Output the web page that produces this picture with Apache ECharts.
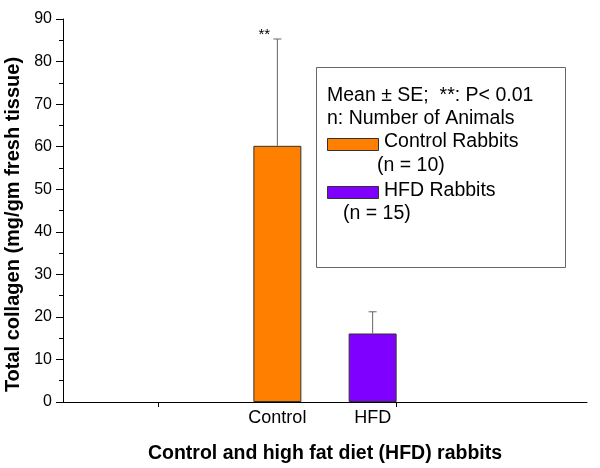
<!DOCTYPE html>
<html>
<head>
<meta charset="utf-8">
<script src="https://cdn.jsdelivr.net/npm/echarts@6/dist/echarts.min.js"></script>
<style>html,body{margin:0;padding:0;background:#fff}#c{width:600px;height:468px}</style>
</head>
<body>
<div id="c"></div>
<script>
const categories = ['Control', 'HFD'];
const means = [60.2, 16.1];
const se = [25.1, 5.1];
const significance = ['**', ''];
const barColors = ['#FF8000', '#8000FF'];
const yTicks = [0, 10, 20, 30, 40, 50, 60, 70, 80, 90];
const legendLines = ['Mean \u00B1 SE;  **: P< 0.01', 'n: Number of Animals'];
const legendItems = ['Control Rabbits', 'HFD Rabbits'];
const legendCounts = ['(n = 10)', '(n = 15)'];

const FONT = 'Liberation Sans, Arial, sans-serif';
// x positions of the categories on the underlying numeric x axis
const xPos = categories.map((c, i) => 2.25 + i);

const chart = echarts.init(document.getElementById('c'), null, {renderer: 'canvas'});
const LF = 19.5;
const option = {
  animation: false,
  backgroundColor: '#fff',
  grid: {left: 63, right: 13, top: 19, bottom: 66, containLabel: false, outerBoundsMode: 'none'},
  xAxis: {
    type: 'value', min: 0, max: 5.5,
    name: 'Control and high fat diet (HFD) rabbits',
    nameLocation: 'middle', nameGap: 42,
    nameTextStyle: {fontFamily: FONT, fontWeight: 'bold', fontSize: 19.5, color: '#000'},
    axisLine: {show: true, onZero: false, lineStyle: {color: '#000', width: 1}},
    axisTick: {show: true, inside: false, length: 5, customValues: [1, 3.5], lineStyle: {color: '#000'}},
    axisLabel: {
      show: true, customValues: xPos, margin: 7,
      fontFamily: FONT, fontSize: 18, color: '#000',
      formatter: v => { const i = xPos.findIndex(p => Math.abs(p - v) < 1e-6); return i >= 0 ? categories[i] : ''; }
    },
    splitLine: {show: false}
  },
  yAxis: {
    type: 'value', min: 0, max: 90, interval: 10,
    name: 'Total collagen (mg/gm fresh tissue)',
    nameLocation: 'middle', nameGap: 38, nameRotate: 90,
    nameTextStyle: {fontFamily: FONT, fontWeight: 'bold', fontSize: 20, color: '#000', padding: [0, 28, 0, 0]},
    axisLine: {show: true, lineStyle: {color: '#000', width: 1}},
    axisTick: {show: true, inside: false, length: 7, lineStyle: {color: '#000'}},
    minorTick: {show: true, splitNumber: 2, length: 4, lineStyle: {color: '#000'}},
    axisLabel: {fontFamily: FONT, fontSize: 16, color: '#000', margin: 11,
      formatter: v => yTicks.includes(v) ? String(v) : ''},
    splitLine: {show: false}
  },
  series: [
    {
      type: 'bar',
      barWidth: 48,
      data: means.map((m, i) => ({value: [xPos[i], m], itemStyle: {color: barColors[i], borderColor: '#333', borderWidth: 1}})),
      z: 2
    },
    {
      type: 'custom',
      z: 3,
      data: means.map((m, i) => [xPos[i], m, m + se[i], i]),
      renderItem: function (params, api) {
        const x = api.value(0);
        const base = api.coord([x, api.value(1)]);
        const top = api.coord([x, api.value(2)]);
        const half = 4;
        const idx = api.value(3);
        const children = [
          {type: 'line', shape: {x1: base[0], y1: base[1], x2: top[0], y2: top[1]}, style: {stroke: '#666', lineWidth: 1}},
          {type: 'line', shape: {x1: top[0] - half, y1: top[1], x2: top[0] + half, y2: top[1]}, style: {stroke: '#666', lineWidth: 1}}
        ];
        if (significance[idx]) {
          children.push({type: 'text', x: top[0] - 13, y: top[1] + 3,
            style: {text: significance[idx], fontFamily: FONT, fontSize: 15, fill: '#000', align: 'center', verticalAlign: 'bottom'}});
        }
        return {type: 'group', children: children};
      }
    }
  ],
  graphic: [
    {type: 'rect', left: 316, top: 67, shape: {width: 249, height: 200}, style: {fill: '#fff', stroke: '#666', lineWidth: 1}, z: 10},
    {type: 'text', left: 327, top: 86, style: {text: legendLines[0], fontFamily: FONT, fontSize: LF, fill: '#000'}, z: 11},
    {type: 'text', left: 327, top: 109, style: {text: legendLines[1], fontFamily: FONT, fontSize: LF, fill: '#000'}, z: 11},
    {type: 'rect', left: 327, top: 138, shape: {width: 51, height: 12}, style: {fill: barColors[0], stroke: '#333', lineWidth: 1}, z: 11},
    {type: 'text', left: 384, top: 132, style: {text: legendItems[0], fontFamily: FONT, fontSize: LF, fill: '#000'}, z: 11},
    {type: 'text', left: 377, top: 156, style: {text: legendCounts[0], fontFamily: FONT, fontSize: LF, fill: '#000'}, z: 11},
    {type: 'rect', left: 327, top: 186, shape: {width: 51, height: 12}, style: {fill: barColors[1], stroke: '#333', lineWidth: 1}, z: 11},
    {type: 'text', left: 384, top: 181, style: {text: legendItems[1], fontFamily: FONT, fontSize: LF, fill: '#000'}, z: 11},
    {type: 'text', left: 343, top: 204, style: {text: legendCounts[1], fontFamily: FONT, fontSize: LF, fill: '#000'}, z: 11}
  ]
};
chart.setOption(option);
</script>
</body>
</html>
